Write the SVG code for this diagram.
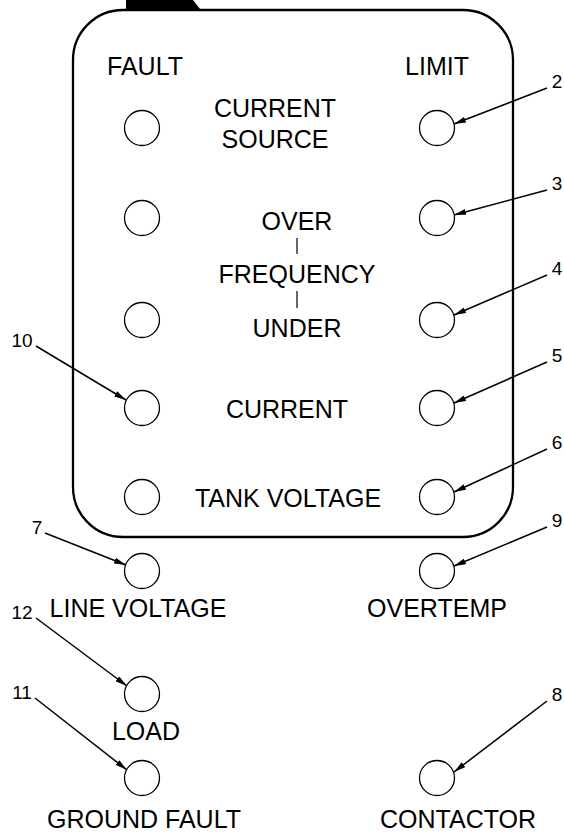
<svg xmlns="http://www.w3.org/2000/svg" width="564" height="837" viewBox="0 0 564 837">
<style>
.t{font-family:"Liberation Sans",Arial,sans-serif;font-size:25px;fill:#000;text-anchor:middle}
.n{font-family:"Liberation Sans",Arial,sans-serif;font-size:19px;fill:#000;text-anchor:middle}
.led{fill:#fff;stroke:#000;stroke-width:1.3}
.c{stroke:#000;stroke-width:1.5;fill:none;marker-end:url(#ah)}
</style>
<defs>
<marker id="ah" viewBox="0 0 12 6" refX="12" refY="3" markerWidth="12" markerHeight="6" markerUnits="userSpaceOnUse" orient="auto">
<path d="M0,0 L12,3 L0,6 Z" fill="#000"/>
</marker>
</defs>
<rect width="564" height="837" fill="#fff"/>
<g id="panel">
<polygon points="126,0 193,0 200,9 126,9" fill="#000"/>
<rect x="73" y="10" width="440" height="527" rx="50" ry="50" fill="none" stroke="#000" stroke-width="2.3"/>
<text class="t" x="145" y="75">FAULT</text>
<text class="t" x="437" y="75">LIMIT</text>
</g>
<g id="current-source">
<circle class="led" cx="142" cy="128" r="17.5"/>
<circle class="led" cx="437" cy="128" r="17.5"/>
<text class="t" x="275" y="117">CURRENT</text>
<text class="t" x="275" y="148">SOURCE</text>
</g>
<g id="frequency">
<circle class="led" cx="142" cy="218" r="17.5"/>
<circle class="led" cx="437" cy="218" r="17.5"/>
<circle class="led" cx="142" cy="320" r="17.5"/>
<circle class="led" cx="437" cy="320" r="17.5"/>
<text class="t" x="297" y="230">OVER</text>
<line x1="297" y1="238" x2="297" y2="254" stroke="#000" stroke-width="1.2"/>
<text class="t" x="297" y="283">FREQUENCY</text>
<line x1="297" y1="291" x2="297" y2="308" stroke="#000" stroke-width="1.2"/>
<text class="t" x="297" y="337">UNDER</text>
</g>
<g id="current">
<circle class="led" cx="142" cy="408" r="17.5"/>
<circle class="led" cx="437" cy="408" r="17.5"/>
<text class="t" x="287" y="418">CURRENT</text>
</g>
<g id="tank-voltage">
<circle class="led" cx="142" cy="497" r="17.5"/>
<circle class="led" cx="437" cy="497" r="17.5"/>
<text class="t" x="288" y="507">TANK VOLTAGE</text>
</g>
<g id="line-voltage">
<circle class="led" cx="142" cy="571" r="17.5"/>
<text class="t" x="138" y="617">LINE VOLTAGE</text>
</g>
<g id="overtemp">
<circle class="led" cx="437" cy="571" r="17.5"/>
<text class="t" x="437" y="617">OVERTEMP</text>
</g>
<g id="load">
<circle class="led" cx="142" cy="694" r="17.5"/>
<text class="t" x="146" y="740">LOAD</text>
</g>
<g id="ground-fault">
<circle class="led" cx="142" cy="778" r="17.5"/>
<text class="t" x="144" y="828">GROUND FAULT</text>
</g>
<g id="contactor">
<circle class="led" cx="437" cy="778" r="17.5"/>
<text class="t" x="458" y="828">CONTACTOR</text>
</g>
<g id="callouts">
<text class="n" x="557" y="88">2</text>
<text class="n" x="557" y="190">3</text>
<text class="n" x="557" y="275">4</text>
<text class="n" x="557" y="362">5</text>
<text class="n" x="557" y="449">6</text>
<text class="n" x="557" y="527">9</text>
<text class="n" x="557" y="701">8</text>
<text class="n" x="22" y="347">10</text>
<text class="n" x="37" y="534">7</text>
<text class="n" x="22" y="619">12</text>
<text class="n" x="22" y="699">11</text>
</g>
<g id="connectors">
<line class="c" x1="547" y1="88" x2="454" y2="124"/>
<line class="c" x1="547" y1="190" x2="454" y2="215"/>
<line class="c" x1="547" y1="275" x2="454" y2="315"/>
<line class="c" x1="547" y1="362" x2="454" y2="403"/>
<line class="c" x1="547" y1="449" x2="454" y2="492"/>
<line class="c" x1="547" y1="527" x2="454" y2="566"/>
<line class="c" x1="547" y1="701" x2="454" y2="772"/>
<line class="c" x1="36" y1="346" x2="126" y2="400"/>
<line class="c" x1="45" y1="533" x2="126" y2="565"/>
<line class="c" x1="36" y1="618" x2="127" y2="686"/>
<line class="c" x1="35" y1="698" x2="127" y2="770"/>
</g>
</svg>
